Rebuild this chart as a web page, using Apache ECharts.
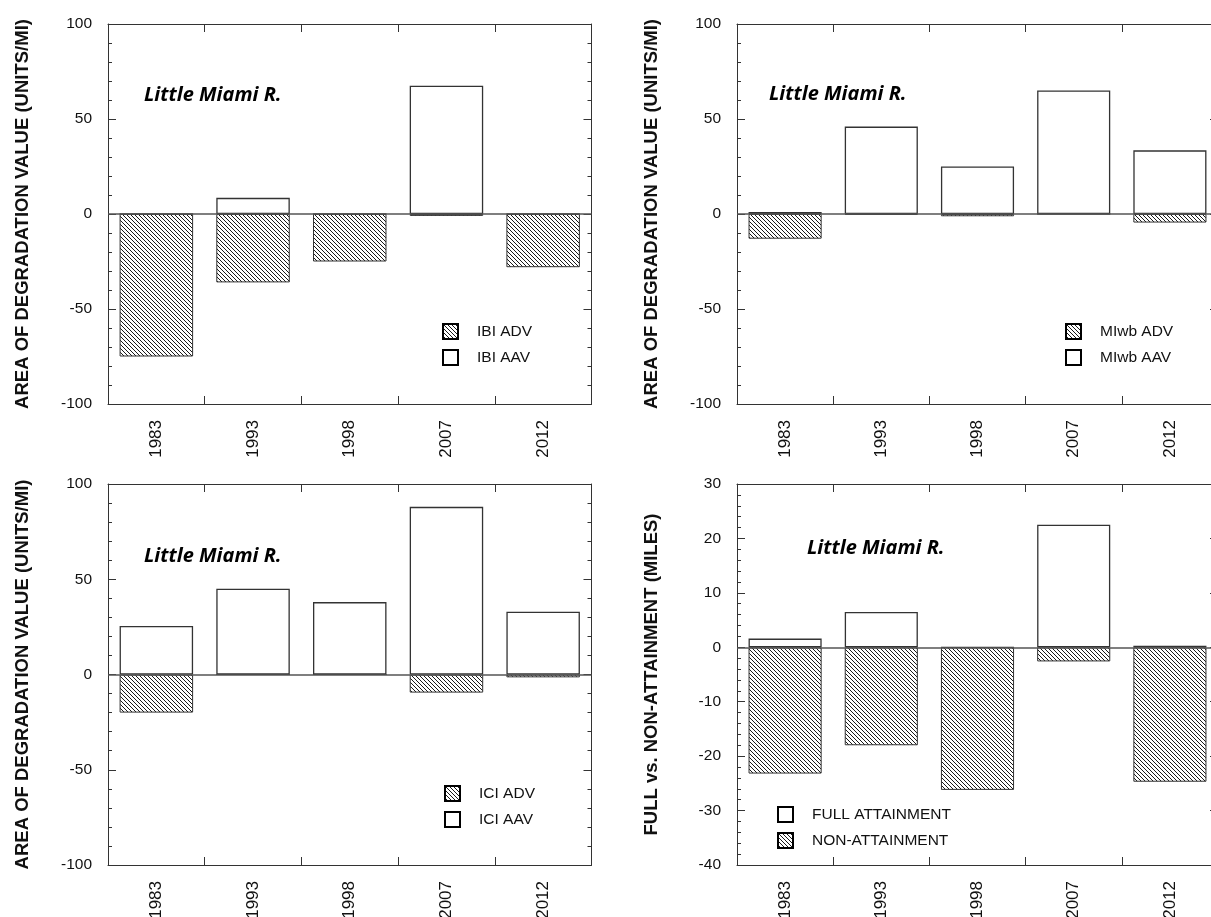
<!DOCTYPE html>
<html>
<head>
<meta charset="utf-8">
<script src="https://cdn.jsdelivr.net/npm/echarts@6/dist/echarts.min.js"></script>
<style>
html,body{margin:0;padding:0;background:#fff;}
#c{width:1211px;height:917px;}
</style>
</head>
<body>
<div id="c"></div>
<script>
// ---- data ----
const years = ['1983', '1993', '1998', '2007', '2012'];
const ibiADV = [-75, -36, -25, -1, -28];
const ibiAAV = [0, 8.5, 0, 67.5, 0];
const miwbADV = [-13, -0.5, -1.2, 0, -4.5];
const miwbAAV = [1, 46, 25, 65, 33.5];
const iciADV = [-20, 0, 0, -9.5, -1.5];
const iciAAV = [25.5, 45, 38, 88, 33];
const fullAttainment = [1.6, 6.5, 0, 22.5, 0.3];
const nonAttainment = [-23.2, -18, -26.2, -2.6, -24.7];
const adTitle = 'AREA OF DEGRADATION VALUE (UNITS/MI)';
const attTitle = 'FULL vs. NON-ATTAINMENT (MILES)';
const riverName = 'Little Miami R.';

// ---- hatch pattern ----
function hatch() {
  const n = 4;
  const c = document.createElement('canvas');
  c.width = n; c.height = n;
  const ctx = c.getContext('2d');
  ctx.fillStyle = '#fff'; ctx.fillRect(0, 0, n, n);
  ctx.fillStyle = '#1a1a1a';
  for (let i = 0; i < n; i++) ctx.fillRect(i, i, 1, 1);
  return c;
}
const hatchFill = { image: hatch(), repeat: 'repeat' };

const FONT = "'Liberation Sans', Arial, sans-serif";
const panels = [
  { left: 108, top: 24, width: 483.5, height: 380, min: -100, max: 100, interval: 50, minorSplit: 5,
    title: adTitle, series: [['IBI ADV', ibiADV, 'h'], ['IBI AAV', ibiAAV, 'w']],
    legend: [442, 323], text: [144, 85] },
  { left: 737, top: 24, width: 481, height: 380, min: -100, max: 100, interval: 50, minorSplit: 5,
    title: adTitle, series: [['MIwb ADV', miwbADV, 'h'], ['MIwb AAV', miwbAAV, 'w']],
    legend: [1065, 323], text: [769, 84] },
  { left: 108, top: 484, width: 483.5, height: 381, min: -100, max: 100, interval: 50, minorSplit: 5,
    title: adTitle, series: [['ICI ADV', iciADV, 'h'], ['ICI AAV', iciAAV, 'w']],
    legend: [444, 785], text: [144, 546] },
  { left: 737, top: 484, width: 481, height: 381, min: -40, max: 30, interval: 10, minorSplit: 5,
    title: attTitle, series: [['FULL ATTAINMENT', fullAttainment, 'w'], ['NON-ATTAINMENT', nonAttainment, 'h']],
    legend: [777, 806], text: [807, 538] }
];

const grid = [], xAxis = [], yAxis = [], series = [], legend = [], graphic = [];
const lineCol = '#333';
panels.forEach((p, g) => {
  grid.push({ left: p.left, top: p.top, width: p.width, height: p.height, containLabel: false, outerBoundsMode: 'none' });
  const tick = { show: true, inside: true, length: 8, lineStyle: { color: lineCol, width: 1 } };
  xAxis.push({
    type: 'category', gridIndex: g, data: years, position: 'bottom',
    axisLine: { show: true, onZero: false, lineStyle: { color: lineCol, width: 1 } },
    axisTick: tick,
    axisLabel: { show: true, rotate: 90, margin: 16, fontSize: 17, color: '#111', fontFamily: FONT },
    splitLine: { show: false }
  });
  xAxis.push({
    type: 'category', gridIndex: g, data: years, position: 'top',
    axisLine: { show: true, onZero: false, lineStyle: { color: lineCol, width: 1 } },
    axisTick: tick, axisLabel: { show: false }, splitLine: { show: false }
  });
  const yCommon = {
    type: 'value', gridIndex: g, min: p.min, max: p.max, interval: p.interval,
    axisLine: { show: true, onZero: false, lineStyle: { color: lineCol, width: 1 } },
    axisTick: tick,
    minorTick: { show: true, splitNumber: p.minorSplit, length: 4, lineStyle: { color: lineCol, width: 1 } },
    splitLine: { show: false }, minorSplitLine: { show: false }
  };
  yAxis.push(Object.assign({}, yCommon, {
    position: 'left',
    name: p.title, nameLocation: 'middle', nameGap: 76,
    nameTextStyle: { fontSize: 18.5, fontWeight: 'bold', color: '#111', fontFamily: FONT },
    axisLabel: { show: true, margin: 16, fontSize: 15.5, color: '#111', fontFamily: FONT }
  }));
  yAxis.push(Object.assign({}, yCommon, { position: 'right', axisLabel: { show: false } }));

  p.series.forEach((s, k) => {
    const isH = s[2] === 'h';
    const ser = {
      type: 'bar', name: s[0], data: s[1], xAxisIndex: 2 * g, yAxisIndex: 2 * g,
      barWidth: '76%', barGap: '-100%',
      itemStyle: isH ? { color: hatchFill, borderColor: '#333', borderWidth: 1 }
                     : { color: '#fff', borderColor: '#333', borderWidth: 1.3 },
      animation: false, silent: true
    };
    if (k === 0) {
      ser.markLine = {
        silent: true, symbol: ['none', 'none'], label: { show: false }, animation: false,
        lineStyle: { color: '#555', width: 1.6, type: 'solid' },
        data: [{ yAxis: 0 }]
      };
    }
    series.push(ser);
  });

  legend.push({
    left: p.legend[0], top: p.legend[1], orient: 'vertical', padding: 0,
    icon: 'rect', itemWidth: 15, itemHeight: 15, itemGap: 9,
    data: p.series.map(s => s[0]),
    itemStyle: { borderColor: '#000', borderWidth: 2 },
    textStyle: { fontSize: 15.5, color: '#111', fontFamily: FONT, padding: [0, 0, 0, 14] },
    selectedMode: false
  });

  graphic.push({
    type: 'text', left: p.text[0], top: p.text[1],
    style: { text: riverName, font: "italic bold 20px 'Open Sans', Lato, sans-serif", fill: '#000' },
    silent: true
  });
});

const chart = echarts.init(document.getElementById('c'), null, { renderer: 'canvas' });
chart.setOption({
  animation: false,
  backgroundColor: '#fff',
  grid, xAxis, yAxis, series, legend, graphic
});
</script>
</body>
</html>
